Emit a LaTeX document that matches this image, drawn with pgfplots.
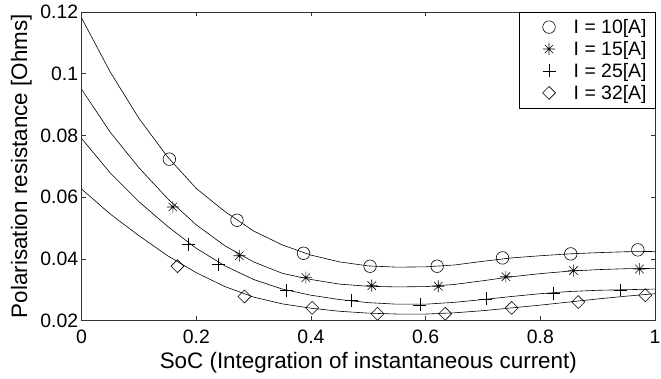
\documentclass[border=0pt]{standalone}
\usepackage{pgfplots}
\pgfplotsset{compat=1.18}
\usepackage{fontspec}
\setmainfont{Liberation Sans}
\pgfdeclareplotmark{mstar}{%
  \pgfpathmoveto{\pgfqpoint{-\pgfplotmarksize}{0pt}}\pgfpathlineto{\pgfqpoint{\pgfplotmarksize}{0pt}}%
  \pgfpathmoveto{\pgfqpoint{0pt}{-\pgfplotmarksize}}\pgfpathlineto{\pgfqpoint{0pt}{\pgfplotmarksize}}%
  \pgfpathmoveto{\pgfqpoint{-.707\pgfplotmarksize}{-.707\pgfplotmarksize}}\pgfpathlineto{\pgfqpoint{.707\pgfplotmarksize}{.707\pgfplotmarksize}}%
  \pgfpathmoveto{\pgfqpoint{-.707\pgfplotmarksize}{.707\pgfplotmarksize}}\pgfpathlineto{\pgfqpoint{.707\pgfplotmarksize}{-.707\pgfplotmarksize}}%
  \pgfusepathqstroke}
\pgfdeclareplotmark{mdiamond}{%
  \pgfpathmoveto{\pgfqpoint{0pt}{\pgfplotmarksize}}%
  \pgfpathlineto{\pgfqpoint{\pgfplotmarksize}{0pt}}%
  \pgfpathlineto{\pgfqpoint{0pt}{-\pgfplotmarksize}}%
  \pgfpathlineto{\pgfqpoint{-\pgfplotmarksize}{0pt}}%
  \pgfpathclose\pgfusepathqstroke}
\begin{document}
\begin{tikzpicture}
\begin{axis}[
  name=ax,
  scale only axis, width=576pt, height=310pt,
  xmin=0, xmax=1, ymin=0.02, ymax=0.12,
  xtick={0,0.2,0.4,0.6,0.8,1},
  ytick={0.02,0.04,0.06,0.08,0.1,0.12},
  scaled ticks=false,
  /pgf/number format/fixed,
  /pgf/number format/assume math mode=true,
  tick align=inside, major tick length=4.5pt,
  tick style={black!80, line width=0.6pt},
  axis line style={black!80, line width=0.8pt},
  tick label style={font=\fontsize{19.5}{22}\selectfont},
  xticklabel style={anchor=center, yshift=-16.7pt, inner xsep=0pt},
  label style={font=\fontsize{22.5}{26}\selectfont},
  xlabel={SoC (Integration of instantaneous current)},
  ylabel={Polarisation resistance [Ohms]},
  xlabel style={at={(axis description cs:0.5,-0.136)}, anchor=center},
  ylabel style={at={(axis description cs:-0.105,0.5)}, anchor=center},
  legend style={at={(1,1)}, anchor=north east, draw=black, fill=white,
    font=\fontsize{19.5}{22}\selectfont, row sep=0pt, inner xsep=0pt, inner ysep=4pt,
    nodes={inner xsep=8.3pt, inner ysep=3.2pt},
    cells={anchor=west}},
  legend cell align=left,
  legend image code/.code={\draw[#1] plot coordinates {(0pt,0pt)}; \path[draw=none] (-29.7pt,0pt)--(16.5pt,0pt);},
]
% fitted curves
\addplot[black, line width=0.6pt, forget plot] coordinates {
(0,0.1180)(0.05,0.1005)(0.1,0.0855)(0.15,0.0730)(0.2,0.0628)(0.25,0.0553)(0.3,0.0490)(0.35,0.0445)(0.4,0.0412)(0.45,0.0390)(0.5,0.0377)(0.55,0.0373)(0.6,0.0374)(0.65,0.0380)(0.7,0.0392)(0.75,0.0403)(0.8,0.0410)(0.85,0.0416)(0.9,0.0420)(0.95,0.0423)(1.0,0.0424)};
\addplot[black, line width=0.6pt, forget plot] coordinates {
(0,0.0949)(0.05,0.0810)(0.1,0.0695)(0.15,0.0595)(0.2,0.0510)(0.25,0.0442)(0.3,0.0390)(0.35,0.0353)(0.4,0.0333)(0.45,0.0318)(0.5,0.0311)(0.55,0.0309)(0.6,0.0310)(0.65,0.0317)(0.7,0.0329)(0.75,0.0342)(0.8,0.0352)(0.85,0.0360)(0.9,0.0365)(0.95,0.0368)(1.0,0.0369)};
\addplot[black, line width=0.6pt, forget plot] coordinates {
(0,0.0790)(0.05,0.0678)(0.1,0.0585)(0.15,0.0505)(0.2,0.0434)(0.25,0.0377)(0.3,0.0333)(0.35,0.0302)(0.4,0.0282)(0.45,0.0268)(0.5,0.0258)(0.55,0.0253)(0.6,0.0253)(0.65,0.0259)(0.7,0.0268)(0.75,0.0278)(0.8,0.0287)(0.85,0.0294)(0.9,0.0298)(0.95,0.0300)(1.0,0.0302)};
\addplot[black, line width=0.6pt, forget plot] coordinates {
(0,0.0626)(0.05,0.0545)(0.1,0.0475)(0.15,0.0410)(0.2,0.0355)(0.25,0.0310)(0.3,0.0276)(0.35,0.0254)(0.4,0.0240)(0.45,0.0230)(0.5,0.0224)(0.55,0.0221)(0.6,0.0221)(0.65,0.0225)(0.7,0.0232)(0.75,0.0241)(0.8,0.0250)(0.85,0.0260)(0.9,0.0270)(0.95,0.0279)(1.0,0.0287)};
% measured points
\addplot[only marks, mark=o, mark size=6.3pt, black, line width=0.6pt] coordinates {
(0.153,0.0723)(0.271,0.0525)(0.387,0.0418)(0.503,0.0376)(0.620,0.0376)(0.734,0.0403)(0.853,0.0416)(0.970,0.0429)};
\addlegendentry{I = 10[A]}
\addplot[only marks, mark=mstar, mark size=6pt, black, line width=0.6pt] coordinates {
(0.159,0.0568)(0.275,0.0410)(0.391,0.0339)(0.506,0.0313)(0.622,0.0311)(0.740,0.0342)(0.858,0.0362)(0.973,0.0367)};
\addlegendentry{I = 15[A]}
\addplot[only marks, mark=+, mark size=6.5pt, black, line width=0.6pt] coordinates {
(0.186,0.0446)(0.238,0.0383)(0.357,0.0297)(0.471,0.0265)(0.590,0.0251)(0.705,0.0270)(0.823,0.0289)(0.940,0.0299)};
\addlegendentry{I = 25[A]}
\addplot[only marks, mark=mdiamond, mark size=6.5pt, black, line width=0.6pt] coordinates {
(0.167,0.0376)(0.284,0.0278)(0.402,0.0241)(0.516,0.0222)(0.634,0.0222)(0.750,0.0241)(0.866,0.0260)(0.983,0.0282)};
\addlegendentry{I = 32[A]}
\end{axis}
\pgfresetboundingbox
\useasboundingbox ([xshift=-82pt,yshift=-58pt]ax.south west) rectangle ([xshift=6pt,yshift=12pt]ax.north east);
\end{tikzpicture}
\end{document}
